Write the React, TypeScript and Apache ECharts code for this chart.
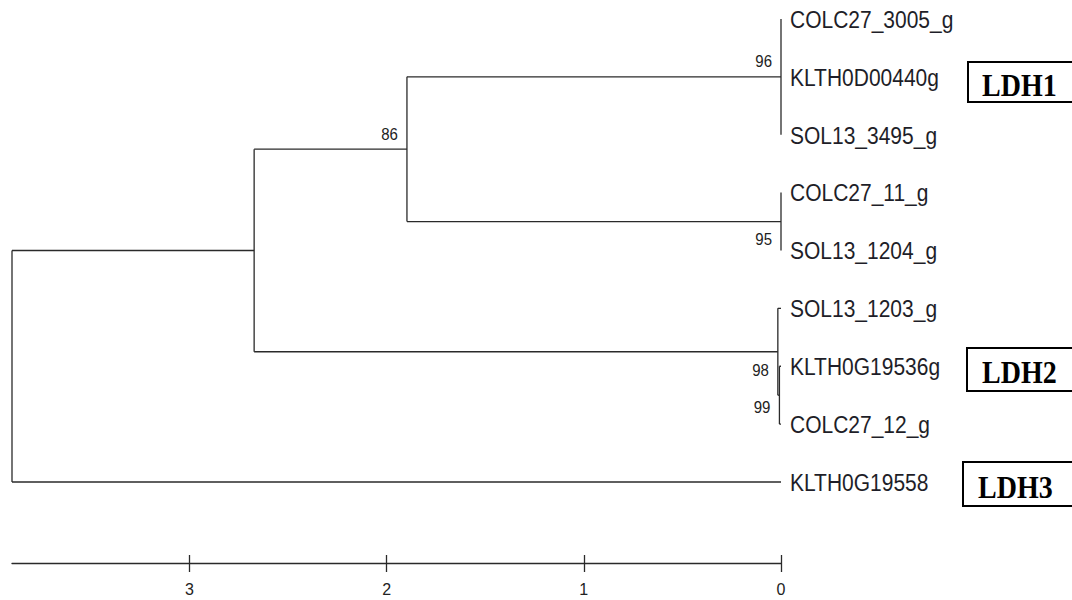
import { useEffect, useRef } from "react";
import * as echarts from "echarts";

// ---- data ----
const leafNames = [
  "COLC27_3005_g",
  "KLTH0D00440g",
  "SOL13_3495_g",
  "COLC27_11_g",
  "SOL13_1204_g",
  "SOL13_1203_g",
  "KLTH0G19536g",
  "COLC27_12_g",
  "KLTH0G19558",
];
const leafDepths = [0, 0, 0, 0, 0, 0, 0, 0, 0];

// internal nodes (children listed before parents)
const nodeIds = ["n96", "n95", "n99", "n98", "n86", "nA", "root"];
const nodeDepths = [0, 0, 0.008, 0.016, 1.897, 2.672, 3.9];
const nodeChildren = [
  ["L0", "L1", "L2"],
  ["L3", "L4"],
  ["L6", "L7"],
  ["L5", "n99"],
  ["n96", "n95"],
  ["n86", "n98"],
  ["nA", "L8"],
];
const nodeSupport: (number | null)[] = [96, 95, 99, 98, 86, null, null];

const scaleTicks = [0, 1, 2, 3];
const groupLabels = ["LDH1", "LDH2", "LDH3"];

// ---- styles / placement (not data) ----
const supportDy: Record<string, number> = { n96: -16, n95: 18, n99: 12, n98: 19, n86: -15 };
const groupBoxes = [
  { x: 968, y: 62, h: 40, tx: 982, ty: 85 },
  { x: 967, y: 348, h: 43, tx: 982, ty: 372 },
  { x: 963, y: 462, h: 44, tx: 978, ty: 487 },
];

export default function App() {
  const ref = useRef<HTMLDivElement>(null);

  useEffect(() => {
    document.body.style.margin = "0";
    const chart = echarts.init(ref.current!, null, { renderer: "svg" });

    const pos: Record<string, { x: number; y: number }> = {};
    leafNames.forEach((_, i) => {
      pos["L" + i] = { x: leafDepths[i], y: i };
    });
    const segments: number[][] = [];
    const supports: any[] = [];
    nodeIds.forEach((id, k) => {
      const ch = nodeChildren[k].map((c) => pos[c]);
      const d = nodeDepths[k];
      const y0 = ch[0].y;
      const y1 = ch[ch.length - 1].y;
      pos[id] = { x: d, y: (y0 + y1) / 2 };
      segments.push([d, y0, d, y1]);
      ch.forEach((c) => segments.push([d, c.y, c.x, c.y]));
      if (nodeSupport[k] != null) supports.push([d, (y0 + y1) / 2, String(nodeSupport[k]), id]);
    });
    const leafData = leafNames.map((n, i) => [leafDepths[i], i, n]);

    const lineColor = "#2a2a2a";
    const baseX = {
      type: "value",
      min: 0,
      max: 3.9,
      inverse: true,
      interval: 1,
      position: "bottom",
      splitLine: { show: false },
    };

    chart.setOption({
      animation: false,
      backgroundColor: "#ffffff",
      grid: [
        { left: 12, right: 291, top: 19, bottom: 37, containLabel: false },
        { left: 12, right: 291, top: 540, bottom: 37, containLabel: false },
      ],
      xAxis: [
        {
          ...baseX,
          gridIndex: 0,
          axisLine: { show: true, onZero: false, lineStyle: { color: lineColor, width: 1.3 } },
          axisTick: { show: true, length: 8, inside: true, customValues: scaleTicks, lineStyle: { color: lineColor, width: 1.3 } },
          axisLabel: { show: false },
        },
        {
          ...baseX,
          gridIndex: 1,
          axisLine: { show: false, onZero: false },
          axisTick: { show: true, length: 9, inside: false, customValues: scaleTicks, lineStyle: { color: lineColor, width: 1.3 } },
          axisLabel: {
            show: true,
            customValues: scaleTicks,
            margin: 18,
            color: "#222",
            fontFamily: "Liberation Sans",
            fontSize: 16,
          },
        },
      ],
      yAxis: [
        { type: "value", gridIndex: 0, min: 0, max: 9.4, inverse: true, show: false, splitLine: { show: false } },
        { type: "value", gridIndex: 1, min: 0, max: 1, show: false, splitLine: { show: false } },
      ],
      series: [
        {
          type: "custom",
          xAxisIndex: 0,
          yAxisIndex: 0,
          data: segments,
          encode: { x: [0, 2], y: [1, 3] },
          renderItem: (_p: any, api: any) => {
            const a = api.coord([api.value(0), api.value(1)]);
            const b = api.coord([api.value(2), api.value(3)]);
            return {
              type: "line",
              shape: { x1: a[0], y1: a[1], x2: b[0], y2: b[1] },
              style: { stroke: lineColor, lineWidth: 1.3 },
            };
          },
          silent: true,
        },
        {
          type: "custom",
          xAxisIndex: 0,
          yAxisIndex: 0,
          data: leafData,
          encode: { x: 0, y: 1 },
          renderItem: (p: any, api: any) => {
            const a = api.coord([api.value(0), api.value(1)]);
            return {
              type: "text",
              x: a[0] + 9,
              y: a[1] + 1,
              scaleY: 1.1,
              style: {
                text: leafData[p.dataIndex][2] as string,
                fill: "#1e1e28",
                font: "21px 'Liberation Sans', Arial, sans-serif",
                align: "left",
                verticalAlign: "middle",
                textAlign: "left",
                textVerticalAlign: "middle",
              },
            };
          },
          silent: true,
        },
        {
          type: "custom",
          xAxisIndex: 0,
          yAxisIndex: 0,
          data: supports,
          encode: { x: 0, y: 1 },
          renderItem: (p: any, api: any) => {
            const a = api.coord([api.value(0), api.value(1)]);
            const item = supports[p.dataIndex];
            return {
              type: "text",
              x: a[0] - 9,
              y: a[1] + (supportDy[item[3]] || 0),
              scaleY: 1.08,
              style: {
                text: item[2],
                fill: "#222",
                font: "15px 'Liberation Sans', Arial, sans-serif",
                align: "right",
                verticalAlign: "middle",
                textAlign: "right",
                textVerticalAlign: "middle",
              },
            };
          },
          silent: true,
        },
      ],
      graphic: groupLabels.flatMap((g, i) => {
        const b = groupBoxes[i];
        return [
          {
            type: "rect",
            shape: { x: b.x, y: b.y, width: 140, height: b.h },
            style: { fill: "#fff", stroke: "#000", lineWidth: 2 },
          },
          {
            type: "text",
            x: b.tx,
            y: b.ty,
            scaleY: 1.12,
            style: {
              text: g,
              fill: "#000",
              font: "bold 28px 'Liberation Serif', 'Times New Roman', serif",
              align: "left",
              verticalAlign: "middle",
              textAlign: "left",
              textVerticalAlign: "middle",
            },
          },
        ];
      }),
    });

    return () => chart.dispose();
  }, []);

  return <div ref={ref} style={{ width: 1072, height: 600 }} />;
}
